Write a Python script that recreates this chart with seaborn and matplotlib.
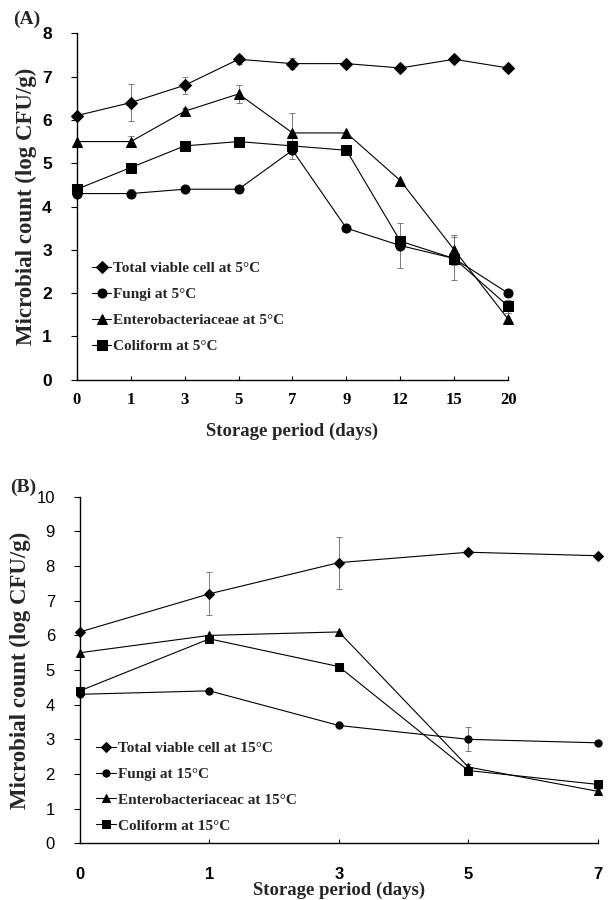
import matplotlib
matplotlib.use("Agg")
import matplotlib.pyplot as plt
import seaborn as sns
import numpy as np
import pandas as pd

# ---------------- data ----------------
days_a = ["0", "1", "3", "5", "7", "9", "12", "15", "20"]
tvc_a = [6.1, 6.4, 6.8, 7.4, 7.3, 7.3, 7.2, 7.4, 7.2]
fungi_a = [4.3, 4.3, 4.4, 4.4, 5.3, 3.5, 3.1, 2.8, 2.0]
entero_a = [5.5, 5.5, 6.2, 6.6, 5.7, 5.7, 4.6, 3.0, 1.4]
coli_a = [4.4, 4.9, 5.4, 5.5, 5.4, 5.3, 3.2, 2.8, 1.7]
tvc_a_err = [0, 0.42, 0.2, 0.1, 0.13, 0, 0, 0, 0]
fungi_a_err = [0, 0.1, 0, 0, 0.2, 0, 0.53, 0, 0]
entero_a_err = [0, 0.12, 0.08, 0.2, 0.45, 0, 0, 0.35, 0]
coli_a_err = [0.1, 0, 0.1, 0, 0, 0, 0, 0.5, 0.15]
labels_a = ["Total viable cell at 5°C", "Fungi at 5°C",
            "Enterobacteriaceae at 5°C", "Coliform at 5°C"]

days_b = ["0", "1", "3", "5", "7"]
tvc_b = [6.1, 7.2, 8.1, 8.4, 8.3]
fungi_b = [4.3, 4.4, 3.4, 3.0, 2.9]
entero_b = [5.5, 6.0, 6.1, 2.2, 1.5]
coli_b = [4.4, 5.9, 5.1, 2.1, 1.7]
tvc_b_err = [0, 0.62, 0.75, 0.06, 0]
fungi_b_err = [0, 0, 0, 0.35, 0.06]
entero_b_err = [0, 0, 0, 0.08, 0.1]
coli_b_err = [0, 0, 0, 0, 0.12]
labels_b = ["Total viable cell at 15°C", "Fungi at 15°C",
            "Enterobacteriaceac at 15°C", "Coliform at 15°C"]

markers = ["D", "o", "^", "s"]
msizes = [6.5, 6.5, 6.5, 6.5]

sns.set_theme(style="ticks")
plt.rcParams['font.family'] = ['Liberation Serif', 'DejaVu Serif']

fig = plt.figure(figsize=(6.1, 9), dpi=100)
ax_a = fig.add_axes([0.126, 0.578, 0.707, 0.385])
ax_b = fig.add_axes([0.131, 0.063, 0.849, 0.385])


def draw(ax, days, series, errs, labels, ylim, yticks, msize_scale=1.0):
    rows = []
    for lab, vals in zip(labels, series):
        for i, (d, v) in enumerate(zip(days, vals)):
            rows.append({"pos": i, "day": d, "value": v, "series": lab})
    df = pd.DataFrame(rows)
    for k, lab in enumerate(labels):
        sub = df[df["series"] == lab]
        sns.lineplot(data=sub, x="pos", y="value", ax=ax, color="black",
                     linewidth=0.8, marker=markers[k],
                     markersize=msizes[k] * msize_scale,
                     markeredgecolor="black", label=lab, clip_on=False,
                     zorder=3)
        e = np.array(errs[k], dtype=float)
        m = e > 0
        x = sub["pos"].to_numpy()[m]
        y = sub["value"].to_numpy()[m]
        ax.errorbar(x, y, yerr=e[m], fmt="none", ecolor="#666666",
                    elinewidth=0.6, capsize=2, capthick=0.6, zorder=2,
                    clip_on=False)
    ax.set_xlim(0, len(days) - 1)
    ax.set_ylim(*ylim)
    ax.set_xticks(range(len(days)))
    ax.set_xticklabels(days)
    ax.set_yticks(yticks)
    for s in ["top", "right"]:
        ax.spines[s].set_visible(False)
    for s in ["left", "bottom"]:
        ax.spines[s].set_linewidth(1.0)
        ax.spines[s].set_color("black")
    ax.tick_params(axis="y", direction="out", length=4, width=0.8,
                   colors="black", pad=14)
    ax.tick_params(axis="x", direction="in", length=3, width=0.8,
                   colors="black", pad=9)
    ax.set_ylabel("Microbial count (log CFU/g)", fontsize=16.5,
                  fontweight="bold", labelpad=4)
    return ax


draw(ax_a, days_a, [tvc_a, fungi_a, entero_a, coli_a],
     [tvc_a_err, fungi_a_err, entero_a_err, coli_a_err], labels_a,
     (0, 8), range(0, 9))
draw(ax_b, days_b, [tvc_b, fungi_b, entero_b, coli_b],
     [tvc_b_err, fungi_b_err, entero_b_err, coli_b_err], labels_b,
     (0, 10), range(0, 11), msize_scale=0.8)

ax_b.tick_params(axis="x", pad=17)

ax_a.set_xlabel("Storage period (days)", fontsize=13.5, fontweight="bold",
                labelpad=10)
ax_b.set_xlabel("Storage period (days)", fontsize=13.5, fontweight="bold",
                labelpad=0)

for lbl in ax_a.get_yticklabels():
    lbl.set_family(['Liberation Sans Narrow', 'Liberation Sans', 'DejaVu Sans'])
    lbl.set_fontweight("bold")
    lbl.set_fontsize(12.5)
for lbl in ax_a.get_xticklabels():
    lbl.set_fontweight("bold")
    lbl.set_fontsize(12)
for lbl in ax_b.get_yticklabels():
    lbl.set_family(['Liberation Sans', 'DejaVu Sans'])
    lbl.set_fontsize(12)
for lbl in ax_b.get_xticklabels():
    lbl.set_family(['Liberation Sans Narrow', 'Liberation Sans', 'DejaVu Sans'])
    lbl.set_fontweight("bold")
    lbl.set_fontsize(12)

for ax, anchor in [(ax_a, (0.02, 0.06)), (ax_b, (0.02, 0.013))]:
    leg = ax.legend(loc="lower left", bbox_to_anchor=anchor, frameon=False,
                    prop={"family": ["Liberation Serif"], "weight": "bold",
                          "size": 11},
                    handlelength=1.3, handletextpad=0.1, labelspacing=0.8,
                    borderaxespad=0)

fig.text(0.022, 0.979, "(A)", fontsize=14, fontweight="bold", ha="left",
         va="center")
fig.text(0.016, 0.459, "(B)", fontsize=14, fontweight="bold", ha="left",
         va="center")

fig.savefig("out.png", dpi=100, facecolor="white")
